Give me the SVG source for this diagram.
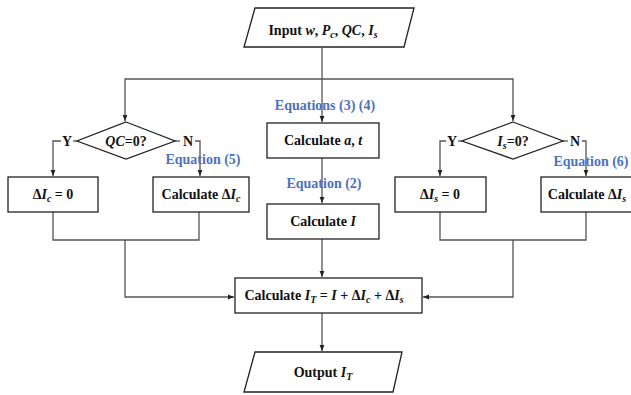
<svg xmlns="http://www.w3.org/2000/svg" width="631" height="395" viewBox="0 0 631 395">
<defs>
<style>
.shape{fill:#fff;stroke:#222;stroke-width:1.3}
.t{font-family:"Liberation Serif","Times New Roman",serif;font-weight:bold;font-size:14px;fill:#111;text-anchor:middle}
.eq{font-family:"Liberation Serif","Times New Roman",serif;font-weight:bold;font-size:14px;fill:#4a72c4;text-anchor:middle}
.c{fill:none;stroke:#555;stroke-width:1.3}
.i{font-style:italic}
</style>
<marker id="ah" viewBox="0 0 6 6" refX="6" refY="3" markerWidth="6" markerHeight="6" orient="auto" markerUnits="userSpaceOnUse">
<path d="M0,0.6 L6,3 L0,5.4 Z" fill="#222"/>
</marker>
</defs>
<rect width="631" height="395" fill="#fff"/>
<g id="connectors">
<path class="c" d="M322,48 V122" marker-end="url(#ah)"/>
<path class="c" d="M322,79 H125 V121" marker-end="url(#ah)"/>
<path class="c" d="M322,79 H513 V121" marker-end="url(#ah)"/>
<path class="c" d="M77,141 H73"/>
<path class="c" d="M61,141 H53 V176" marker-end="url(#ah)"/>
<path class="c" d="M175,141 H180"/>
<path class="c" d="M195,141 H200 V176" marker-end="url(#ah)"/>
<path class="c" d="M462,141 H458"/>
<path class="c" d="M446,141 H440 V176" marker-end="url(#ah)"/>
<path class="c" d="M563,141 H568"/>
<path class="c" d="M582,141 H586 V176" marker-end="url(#ah)"/>
<path class="c" d="M322,158 V203" marker-end="url(#ah)"/>
<path class="c" d="M322,239 V277" marker-end="url(#ah)"/>
<path class="c" d="M322,313 V351" marker-end="url(#ah)"/>
<path class="c" d="M53,212 V240 H199 V212"/>
<path class="c" d="M125,240 V297 H234" marker-end="url(#ah)"/>
<path class="c" d="M440,212 V240 H586 V212"/>
<path class="c" d="M513,240 V297 H423" marker-end="url(#ah)"/>
</g>
<g id="input">
<polygon class="shape" points="255,8 414,8 404,47 244,47"/>
<text class="t" x="323" y="35">Input <tspan class="i">w</tspan>, <tspan class="i">P</tspan><tspan class="i" font-size="10" dy="3">c</tspan><tspan dy="-3">, </tspan><tspan class="i">QC</tspan>, <tspan class="i">I</tspan><tspan class="i" font-size="10" dy="3">s</tspan></text>
</g>
<g id="dec-qc">
<polygon class="shape" points="126,122 175,141 126,159 77,141"/>
<text class="t" x="126" y="146"><tspan class="i">QC</tspan>=0?</text>
<text class="t" x="67" y="146">Y</text>
<text class="t" x="188" y="146">N</text>
</g>
<g id="dec-is">
<polygon class="shape" points="513,122 563,141 513,159 462,141"/>
<text class="t" x="513" y="146"><tspan class="i">I</tspan><tspan class="i" font-size="10" dy="3">s</tspan><tspan dy="-3">=0?</tspan></text>
<text class="t" x="452" y="146">Y</text>
<text class="t" x="575" y="146">N</text>
</g>
<g id="dic0">
<rect class="shape" x="8" y="177" width="90" height="35"/>
<text class="t" x="53" y="199">Δ<tspan class="i">I</tspan><tspan class="i" font-size="10" dy="3">c</tspan><tspan dy="-3"> = 0</tspan></text>
</g>
<g id="calc-dic">
<rect class="shape" x="153" y="177" width="96" height="35"/>
<text class="t" x="201" y="199">Calculate Δ<tspan class="i">I</tspan><tspan class="i" font-size="10" dy="3">c</tspan></text>
</g>
<g id="dis0">
<rect class="shape" x="395" y="177" width="91" height="35"/>
<text class="t" x="440" y="199">Δ<tspan class="i">I</tspan><tspan class="i" font-size="10" dy="3">s</tspan><tspan dy="-3"> = 0</tspan></text>
</g>
<g id="calc-dis">
<rect class="shape" x="541" y="177" width="100" height="35"/>
<text class="t" x="587" y="199">Calculate Δ<tspan class="i">I</tspan><tspan class="i" font-size="10" dy="3">s</tspan></text>
</g>
<g id="calc-at">
<rect class="shape" x="267" y="123" width="112" height="35"/>
<text class="t" x="323" y="145">Calculate <tspan class="i">a</tspan>, <tspan class="i">t</tspan></text>
</g>
<g id="calc-i">
<rect class="shape" x="267" y="204" width="112" height="35"/>
<text class="t" x="323" y="226">Calculate <tspan class="i">I</tspan></text>
</g>
<g id="calc-it">
<rect class="shape" x="235" y="278" width="187" height="35"/>
<text class="t" x="324" y="300">Calculate <tspan class="i">I</tspan><tspan class="i" font-size="10" dy="3">T</tspan><tspan dy="-3"> = </tspan><tspan class="i">I</tspan> + Δ<tspan class="i">I</tspan><tspan class="i" font-size="10" dy="3">c</tspan><tspan dy="-3"> + Δ</tspan><tspan class="i">I</tspan><tspan class="i" font-size="10" dy="3">s</tspan></text>
</g>
<g id="output">
<polygon class="shape" points="255,352 402,352 393,392 244,392"/>
<text class="t" x="323" y="377">Output <tspan class="i">I</tspan><tspan class="i" font-size="10" dy="3">T</tspan></text>
</g>
<g id="labels">
<text class="eq" x="325" y="110">Equations (3) (4)</text>
<text class="eq" x="324" y="188">Equation (2)</text>
<text class="eq" x="203" y="164">Equation (5)</text>
<text class="eq" x="591" y="166">Equation (6)</text>
</g>
</svg>
